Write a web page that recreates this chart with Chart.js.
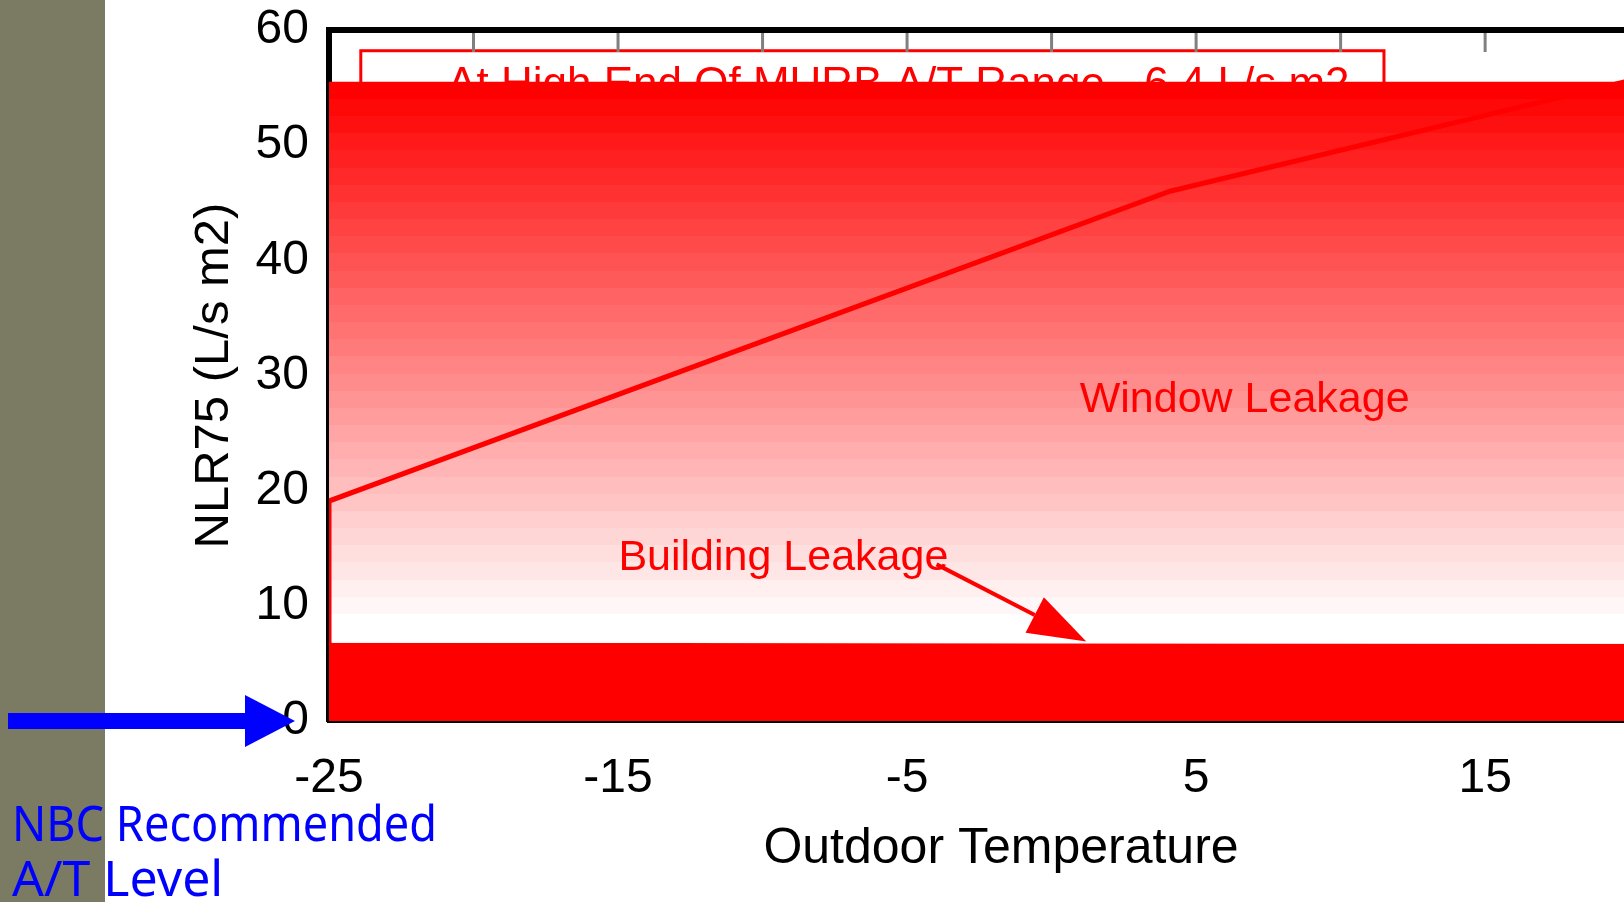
<!DOCTYPE html>
<html>
<head>
<meta charset="utf-8">
<script src="https://cdn.jsdelivr.net/npm/chart.js@4.4.0/dist/chart.umd.min.js"></script>
<style>
html, body { margin: 0; padding: 0; background: #fff; overflow: hidden; }
#wrap { position: absolute; left: 0; top: 0; width: 1683px; height: 902px; }
</style>
</head>
<body>
<div id="wrap"><canvas id="chart"></canvas></div>
<script>
// axis ranges and ticks
const xMin = -25, xMax = 21.5;
const xTicks = [-25, -15, -5, 5, 15];
const topTicks = [-20, -15, -10, -5, 0, 5, 10, 15, 20];
const yMin = 0, yMax = 60;

// window leakage line (NLR75 vs outdoor temperature)
const windowLineX = [-25, -25, 4.1, 20];
const windowLineY = [6.4, 19.1, 46.0, 55.6];

// shaded window leakage area and the building leakage band
const windowAreaX = [-25, 21.5];
const windowAreaY = [55.5, 55.5];
const buildingX = [-25, 21.5];
const buildingY = [6.8, 6.7];
const gradientWhiteAt = 7.8;

const RED = "#ff0000";
Chart.defaults.font.family = '"Liberation Sans", Arial, sans-serif';
Chart.defaults.color = "#000";

const toPoints = (xs, ys) => xs.map((x, i) => ({ x: x, y: ys[i] }));

function bandedGradient(context) {
    const chart = context.chart;
    if (!chart.chartArea) return "rgba(255,0,0,0.5)";
    const y = chart.scales.y;
    const g = chart.ctx.createLinearGradient(0, y.getPixelForValue(windowAreaY[0]), 0, y.getPixelForValue(gradientWhiteAt));
    const n = 32;
    for (let i = 0; i < n; i++) {
        const v = Math.round(255 * i / (n - 1));
        const c = "rgb(255," + v + "," + v + ")";
        g.addColorStop(i / n, c);
        g.addColorStop((i + 1) / n - 0.0001, c);
    }
    return g;
}

// page background strip on the left
const backdrop = {
    id: "backdrop",
    beforeDraw(chart) {
        const ctx = chart.ctx;
        ctx.save();
        ctx.fillStyle = "rgb(123,122,99)";
        ctx.fillRect(0, 0, 105, chart.height);
        ctx.restore();
    },
};

// the note box that sits behind the shaded area
const noteBox = {
    id: "noteBox",
    beforeDatasetsDraw(chart) {
        const { ctx, scales: { x, y } } = chart;
        const left = x.getPixelForValue(-23.9), right = x.getPixelForValue(11.5);
        const top = y.getPixelForValue(58.2), bottom = y.getPixelForValue(50);
        ctx.save();
        ctx.fillStyle = "#fff";
        ctx.fillRect(left, top, right - left, bottom - top);
        ctx.strokeStyle = RED;
        ctx.lineWidth = 3;
        ctx.strokeRect(left, top, right - left, bottom - top);
        ctx.fillStyle = RED;
        ctx.font = '44px "Liberation Sans", Arial, sans-serif';
        ctx.textAlign = "center";
        ctx.textBaseline = "alphabetic";
        ctx.fillText("At High End Of MURB A/T Range - 6.4 L/s m2", x.getPixelForValue(-5.3), y.getPixelForValue(54.1));
        ctx.restore();
    },
};

// top frame, its tick marks and the in-plot labels
const decorations = {
    id: "decorations",
    afterDatasetsDraw(chart) {
        const { ctx, chartArea, scales: { x, y } } = chart;
        ctx.save();
        ctx.strokeStyle = "#808080";
        ctx.lineWidth = 3;
        topTicks.forEach((t) => {
            const px = x.getPixelForValue(t);
            ctx.beginPath();
            ctx.moveTo(px, chartArea.top);
            ctx.lineTo(px, chartArea.top + 22);
            ctx.stroke();
        });
        ctx.strokeStyle = "#000";
        ctx.lineWidth = 6;
        ctx.beginPath();
        ctx.moveTo(chartArea.left - 3, chartArea.top);
        ctx.lineTo(chartArea.right, chartArea.top);
        ctx.stroke();

        ctx.fillStyle = RED;
        ctx.font = '43px "Liberation Sans", Arial, sans-serif';
        ctx.textAlign = "center";
        ctx.textBaseline = "middle";
        ctx.fillText("Window Leakage", x.getPixelForValue(6.68), y.getPixelForValue(27.9));
        ctx.fillText("Building Leakage", x.getPixelForValue(-9.28), y.getPixelForValue(14.1));

        // arrow from the label to the band
        const sx = x.getPixelForValue(-3.98), sy = y.getPixelForValue(13.6);
        const tx = x.getPixelForValue(1.2), ty = y.getPixelForValue(6.9);
        const ang = Math.atan2(ty - sy, tx - sx);
        const headLen = 58, headHalf = 20;
        const bx = tx - headLen * Math.cos(ang), by = ty - headLen * Math.sin(ang);
        ctx.strokeStyle = RED;
        ctx.lineWidth = 4;
        ctx.beginPath();
        ctx.moveTo(sx, sy);
        ctx.lineTo(bx, by);
        ctx.stroke();
        ctx.beginPath();
        ctx.moveTo(tx, ty);
        ctx.lineTo(bx + headHalf * Math.sin(ang), by - headHalf * Math.cos(ang));
        ctx.lineTo(bx - headHalf * Math.sin(ang), by + headHalf * Math.cos(ang));
        ctx.closePath();
        ctx.fill();
        ctx.restore();
    },
    afterDraw(chart) {
        const { ctx, chartArea, scales: { y } } = chart;
        const y0 = y.getPixelForValue(0);
        const tip = chartArea.left - 34;
        ctx.save();
        ctx.fillStyle = "#0000ff";
        ctx.fillRect(8, y0 - 8, tip - 50 - 8, 16);
        ctx.beginPath();
        ctx.moveTo(tip, y0);
        ctx.lineTo(tip - 50, y0 - 26);
        ctx.lineTo(tip - 50, y0 + 26);
        ctx.closePath();
        ctx.fill();
        ctx.font = '50px "Comic Sans MS", "Noto Sans", sans-serif';
        ctx.textAlign = "left";
        ctx.textBaseline = "alphabetic";
        ctx.fillText("NBC Recommended", 12, 841, 425);
        ctx.fillText("A/T Level", 12, 896, 220);
        ctx.restore();
    },
};

const ctx = document.getElementById("chart").getContext("2d");
const chart = new Chart(ctx, {
    type: "line",
    data: {
        datasets: [
            {
                label: "Window leakage",
                data: toPoints(windowLineX, windowLineY),
                borderColor: RED,
                borderWidth: 5,
                pointRadius: 0,
                fill: false,
                order: 0,
            },
            {
                label: "Window area",
                data: toPoints(windowAreaX, windowAreaY),
                borderWidth: 0,
                pointRadius: 0,
                backgroundColor: bandedGradient,
                fill: "+1",
                order: 1,
            },
            {
                label: "Building leakage",
                data: toPoints(buildingX, buildingY),
                borderWidth: 0,
                pointRadius: 0,
                backgroundColor: RED,
                fill: "origin",
                order: 2,
            },
        ],
    },
    options: {
        responsive: true,
        maintainAspectRatio: false,
        animation: false,
        layout: { padding: { top: 30, right: 10, left: 0, bottom: 0 } },
        scales: {
            x: {
                type: "linear",
                min: xMin,
                max: xMax,
                afterBuildTicks: (scale) => { scale.ticks = xTicks.map((v) => ({ value: v })); },
                afterFit: (scale) => {
                    scale.height = 181;
                    scale.paddingLeft = 0;
                    scale.paddingRight = 0;
                },
                grid: { display: false, drawTicks: false },
                border: { display: true, color: "#000", width: 4 },
                ticks: { font: { size: 48 }, padding: 29, color: "#000", maxRotation: 0 },
                title: {
                    display: true,
                    text: "Outdoor Temperature",
                    font: { size: 50 },
                    color: "#000",
                    padding: { top: 0, bottom: 23 },
                },
            },
            y: {
                min: yMin,
                max: yMax,
                afterFit: (scale) => {
                    scale.width = 329;
                    scale.paddingTop = 0;
                    scale.paddingBottom = 0;
                },
                grid: { display: false, drawTicks: false },
                border: { display: true, color: "#000", width: 6 },
                ticks: { stepSize: 10, font: { size: 48 }, padding: 20, color: "#000" },
                title: {
                    display: true,
                    text: "NLR75 (L/s m2)",
                    font: { size: 49 },
                    color: "#000",
                    padding: { top: 185, bottom: 0 },
                },
            },
        },
        plugins: {
            legend: { display: false },
            tooltip: { enabled: false },
        },
    },
    plugins: [backdrop, noteBox, decorations],
});
</script>
</body>
</html>
